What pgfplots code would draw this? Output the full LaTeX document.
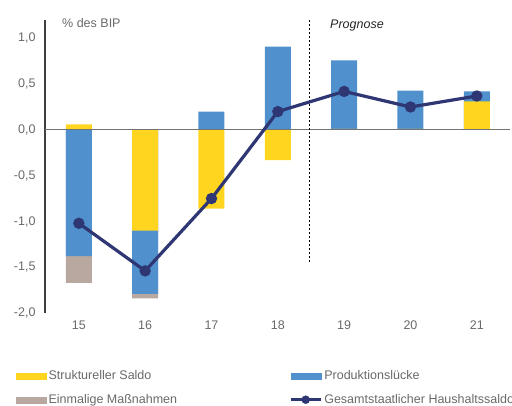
\documentclass[border=0pt]{standalone}
\usepackage{pgfplots}
\pgfplotsset{compat=1.18}
\usepackage{fontspec}
\setmainfont{Liberation Sans}
\definecolor{cyel}{RGB}{255,213,32}
\definecolor{cblue}{RGB}{79,144,205}
\definecolor{cgrey}{RGB}{184,168,160}
\definecolor{cnavy}{RGB}{46,55,115}
\definecolor{ctxt}{RGB}{105,105,105}
\begin{document}
\begin{tikzpicture}
\begin{axis}[
  scale only axis, width=465pt, height=293pt,
  xmin=14.49, xmax=21.5, ymin=-2, ymax=1.2,
  axis lines=left, axis line style={-},
  x axis line style={draw=none},
  y axis line style={draw=black!75, line width=1.2pt},
  major tick length=0pt,
  xtick={15,16,17,18,19,20,21},
  xticklabels={15,16,17,18,19,20,21},
  ytick={-2,-1.5,-1,-0.5,0,0.5,1},
  yticklabels={{-2,0},{-1,5},{-1,0},{-0,5},{0,0},{0,5},{1,0}},
  tick label style={font=\fontsize{12.5}{14}\selectfont, text=ctxt},
  yticklabel style={xshift=-6pt},
  xticklabel style={yshift=-4pt},
  ybar, bar width=26pt, bar shift=0pt,
  clip=false,
  legend columns=2,
  legend cell align=left,
  legend style={at={(axis description cs:-0.0624,-0.19)}, anchor=north west,
    draw=none, fill=none, font=\fontsize{12.5}{14}\selectfont, text=ctxt,
    inner sep=0pt, row sep=9pt,
    /tikz/every even column/.append style={column sep=110pt}},
]
% negative totals incl. one-off measures
\addplot[fill=cgrey, draw=none, forget plot] coordinates {(15,-1.67) (16,-1.84)};
% output gap (cumulative ends)
\addplot[fill=cblue, draw=none, forget plot] coordinates {(15,-1.38) (16,-1.79) (17,0.20) (18,0.91) (19,0.76) (20,0.43) (21,0.42)};
% structural balance
\addplot[fill=cyel, draw=none, forget plot] coordinates {(15,0.06) (16,-1.10) (17,-0.86) (18,-0.33) (19,0.01) (20,0.01) (21,0.31)};
\draw[black!55, line width=1pt] (axis cs:14.49,0) -- (axis cs:21.5,0);
\draw[black, line width=0.8pt, dash pattern=on 2pt off 2pt] (axis cs:18.47,1.2) -- (axis cs:18.47,-1.45);
\addplot[sharp plot, cnavy, line width=3.2pt, mark=*, mark size=4pt, mark options={fill=cnavy, draw=cnavy}, forget plot]
  coordinates {(15,-1.02) (16,-1.54) (17,-0.75) (18,0.20) (19,0.42) (20,0.25) (21,0.37)};
\node[anchor=west, text=ctxt, font=\fontsize{12.5}{14}\selectfont, inner sep=0pt] at (rel axis cs:0.0366,0.99) {\% des BIP};
\node[anchor=west, text=black!85, font=\fontsize{12.5}{14}\selectfont\itshape, inner sep=0pt] at (rel axis cs:0.613,0.98) {Prognose};
\addlegendimage{legend image code/.code={\fill[cyel] (0pt,-3pt) rectangle (30pt,3pt);}}
\addlegendentry{Struktureller Saldo}
\addlegendimage{legend image code/.code={\fill[cblue] (0pt,-3pt) rectangle (30pt,3pt);}}
\addlegendentry{Produktionslücke}
\addlegendimage{legend image code/.code={\fill[cgrey] (0pt,-3pt) rectangle (30pt,3pt);}}
\addlegendentry{Einmalige Maßnahmen}
\addlegendimage{legend image code/.code={\draw[cnavy, line width=3.2pt] (0pt,0pt) -- (30pt,0pt); \fill[cnavy] (15pt,0pt) circle (4pt);}}
\addlegendentry{Gesamtstaatlicher Haushaltssaldo}
\end{axis}
\pgfresetboundingbox
\useasboundingbox (-45pt,-92pt) rectangle (467pt,313pt);
\end{tikzpicture}
\end{document}
